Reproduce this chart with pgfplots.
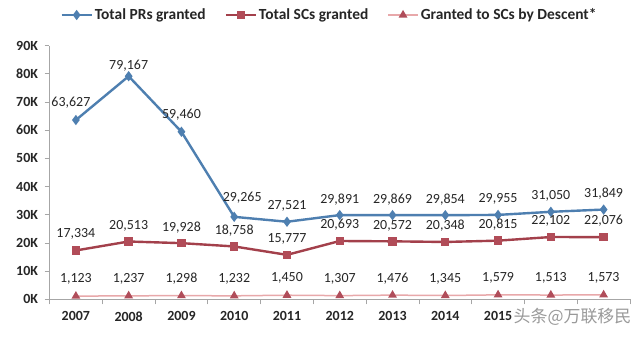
\documentclass[border=0pt]{standalone}
\usepackage{fontspec}
\setmainfont{Carlito}
\newfontfamily\cjk{Noto Sans CJK SC}
\usepackage{pgfplots}
\pgfplotsset{compat=1.18}
\usepackage{pgfplotstable}
\definecolor{prblue}{HTML}{4E7FB0}
\definecolor{scred}{HTML}{A3404B}
\definecolor{scmark}{HTML}{B14C58}
\definecolor{dline}{HTML}{E8A8AA}
\definecolor{dmark}{HTML}{B04D5A}
\definecolor{axgray}{HTML}{A6A6A6}

\pgfplotstableread{
x y dx dy
2007 63627 -5 17
2008 79167 0 11
2009 59460 0 17
2010 29265 8 19
2011 27521 0 16
2012 29891 0 16
2013 29869 0 16
2014 29854 0 16
2015 29955 0 16
2016 31050 0 16
2017 31849 0 16
}\pr
\pgfplotstableread{
x y dx dy
2007 17334 0 17
2008 20513 0 16
2009 19928 0 16
2010 18758 0 16
2011 15777 0 16
2012 20693 0 16
2013 20572 0 16
2014 20348 0 16
2015 20815 0 16
2016 22102 0 16
2017 22076 0 16
}\sc
\pgfplotstableread{
x y dx dy
2007 1123 0 17
2008 1237 0 17
2009 1298 0 17
2010 1232 0 17
2011 1450 0 17
2012 1307 0 17
2013 1476 0 17
2014 1345 0 17
2015 1579 0 17
2016 1513 0 17
2017 1573 0 17
}\ds

\begin{document}
\begin{tikzpicture}
\useasboundingbox[fill=white] (-49.5bp,-38.7bp) rectangle (590.5bp,299.3bp);
\begin{axis}[
  at={(0,0)}, anchor=south west,
  scale only axis, width=580.5bp, height=253.6bp,
  xmin=2006.5, xmax=2017.5, ymin=0, ymax=90000,
  scaled y ticks=false,
  axis lines*=left,
  axis line style={axgray, line width=1bp},
  xtick={2007,2008,2009,2010,2011,2012,2013,2014,2015},
  xticklabels={2007,2008,2009,2010,2011,2012,2013,2014,2015},
  major x tick style={draw=none},
  minor xtick={2006.5,2007.5,2008.5,2009.5,2010.5,2011.5,2012.5,2013.5,2014.5,2015.5,2016.5,2017.5},
  ytick={0,10000,20000,30000,40000,50000,60000,70000,80000,90000},
  yticklabels={0K,10K,20K,30K,40K,50K,60K,70K,80K,90K},
  tick align=outside, major tick length=5bp, minor tick length=5bp,
  tick style={axgray, line width=0.8bp},
  ticklabel style={font=\bfseries\fontsize{14}{16}\selectfont, text=black!85},
  x tick label style={yshift=-4bp},
  y tick label style={xshift=-3bp},
  clip=false,
  legend columns=3,
  legend style={at={(0.4823,1.121)}, anchor=center, draw=none, fill=none,
    font=\bfseries\fontsize{15.5}{18}\selectfont, text=black!85,
    /tikz/every even column/.append style={column sep=17bp},
    /tikz/every odd column/.append style={column sep=0bp}},
  legend image code/.code={\draw[mark repeat=2,mark phase=2] plot coordinates {(0bp,0bp)(15bp,0bp)(30bp,0bp)};},
  nodes near coords={\pgfmathprintnumber[assume math mode=true,fixed,precision=0,1000 sep={,}]{\pgfplotspointmeta}},
  visualization depends on={\thisrow{dy}\as\dy},
  visualization depends on={\thisrow{dx}\as\dx},
  every node near coord/.append style={anchor=center, yshift=\dy, xshift=\dx, font=\fontsize{14}{16}\selectfont, text=black!85},
]
\addplot[prblue, line width=2.4bp, mark=diamond*, mark size=3.2bp, mark options={solid, fill=prblue}] table[x=x,y=y]{\pr};
\addlegendentry{Total PRs granted}
\addplot[scred, line width=2.4bp, mark=square*, mark size=3bp, mark options={solid, fill=scmark, draw=scmark}] table[x=x,y=y]{\sc};
\addlegendentry{Total SCs granted}
\addplot[dline, line width=1.5bp, mark=triangle*, mark size=3.6bp, mark options={solid, fill=dmark, draw=dmark}] table[x=x,y=y]{\ds};
\addlegendentry{Granted to SCs by Descent*}
\end{axis}
\node[font=\cjk\fontsize{17}{19}\selectfont, text=gray!80, fill=white, inner sep=1.5bp] at (523bp,-17.4bp) {头条@万联移民};
\end{tikzpicture}
\end{document}
